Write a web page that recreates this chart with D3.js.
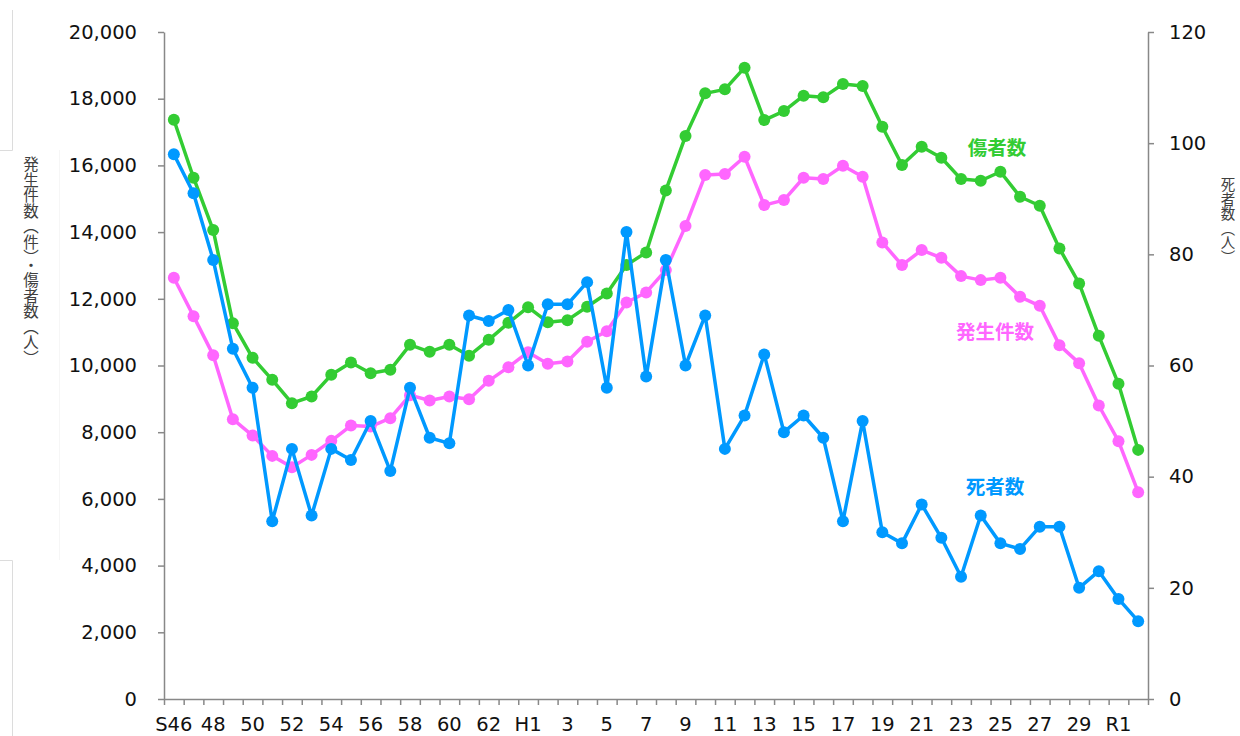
<!DOCTYPE html>
<html lang="ja">
<head>
<meta charset="utf-8">
<script src="https://cdn.jsdelivr.net/npm/d3@7"></script>
<style>
  body { margin: 0; background: #fff; }
  svg { display: block; }
</style>
</head>
<body>
<svg id="chart"></svg>
<script>
// Categories: fiscal years S46 (1971) .. R2 (2020)
const categories = [
  "S46","S47","S48","S49","S50","S51","S52","S53","S54","S55","S56","S57","S58","S59","S60","S61","S62","S63",
  "H1","H2","H3","H4","H5","H6","H7","H8","H9","H10","H11","H12","H13","H14","H15","H16","H17","H18","H19","H20",
  "H21","H22","H23","H24","H25","H26","H27","H28","H29","H30","R1","R2"
];
// labels shown under every other category
const tickLabels = ["S46","48","50","52","54","56","58","60","62","H1","3","5","7","9","11","13","15","17","19","21","23","25","27","29","R1"];

// 傷者数 (left axis)
const injured = [
  17370,15630,14060,11270,10230,9570,8870,9070,9720,10090,9770,9870,10620,10410,10620,10290,10770,11280,
  11750,11300,11360,11760,12160,13010,13390,15250,16880,18160,18280,18930,17360,17630,18090,18040,18440,18380,
  17160,16010,16560,16230,15590,15540,15810,15060,14790,13510,12460,10890,9450,7470
];
// 発生件数 (left axis)
const accidents = [
  12630,11480,10310,8390,7900,7290,6950,7320,7740,8200,8170,8420,9110,8950,9070,8990,9540,9950,
  10400,10050,10120,10710,11030,11890,12190,12860,14180,15710,15740,16260,14810,14960,15630,15590,15990,15660,
  13690,13010,13460,13230,12680,12560,12630,12060,11790,10610,10070,8800,7730,6200
];
// 死者数 (right axis)
const deaths = [
  98,91,79,63,56,32,45,33,45,43,50,41,56,47,46,69,68,70,
  60,71,71,75,56,84,58,79,60,69,45,51,62,48,51,47,32,50,
  30,28,35,29,22,33,28,27,31,31,20,23,18,14
];

const leftTicks = [0,2000,4000,6000,8000,10000,12000,14000,16000,18000,20000];
const rightTicks = [0,20,40,60,80,100,120];

const width = 1240, height = 736;
const margin = {top: 32, right: 92, bottom: 37, left: 164};
const plotW = width - margin.left - margin.right;
const plotH = height - margin.top - margin.bottom;

const colors = {injured: "#33cc33", accidents: "#ff66ff", deaths: "#0099ff"};
const font = "'DejaVu Sans', Verdana, sans-serif";
const jpFont = "'Noto Sans CJK JP', sans-serif";

const svg = d3.select("#chart").attr("width", width).attr("height", height);

// faint frame remnants at the left edge of the original image
const frame = svg.append("g").attr("stroke", "#dcdcdc").attr("stroke-width", 1).attr("fill", "none");
frame.append("path").attr("d", "M12.5,10V150.5H0");
frame.append("path").attr("d", "M0,560.5H12.5V736");
frame.append("path").attr("d", "M59.5,150V560").attr("stroke", "#f6f6f6");

const chart = svg.append("g").attr("transform", `translate(${margin.left},${margin.top})`);

const x = d3.scaleBand().domain(d3.range(categories.length)).range([0, plotW]);
const xEdge = d3.scaleLinear().domain([0, categories.length]).range([0, plotW]);
const yLeft = d3.scaleLinear().domain([0, 20000]).range([plotH, 0]);
const yRight = d3.scaleLinear().domain([0, 120]).range([plotH, 0]);
const cx = i => x(i) + x.bandwidth() / 2;

function styleAxis(g) {
  g.select(".domain").attr("stroke", "#888").attr("stroke-width", 1.5);
  g.selectAll(".tick line").attr("stroke", "#888").attr("stroke-width", 1.5);
  g.selectAll("text").attr("font-family", font).attr("font-size", "19.5px").attr("fill", "#111");
}

// left axis
chart.append("g")
    .call(d3.axisLeft(yLeft).tickValues(leftTicks).tickFormat(d3.format(",")).tickSize(6).tickPadding(21).tickSizeOuter(0))
    .call(styleAxis);

// right axis
chart.append("g")
    .attr("transform", `translate(${plotW},0)`)
    .call(d3.axisRight(yRight).tickValues(rightTicks).tickSize(6).tickPadding(15).tickSizeOuter(0))
    .call(styleAxis);

// x axis: ticks on category boundaries
chart.append("g")
    .attr("transform", `translate(0,${plotH})`)
    .call(d3.axisBottom(xEdge).tickValues(d3.range(categories.length + 1)).tickFormat("").tickSize(6).tickSizeOuter(0))
    .call(styleAxis);

// x labels at every other category centre
chart.append("g")
    .attr("transform", `translate(0,${plotH})`)
    .call(d3.axisBottom(x)
        .tickValues(d3.range(0, categories.length, 2))
        .tickFormat((d, i) => tickLabels[i])
        .tickSize(0).tickPadding(18))
    .call(styleAxis)
    .call(g => g.select(".domain").remove());

// series
const series = [
  {key: "injured", values: injured, y: yLeft},
  {key: "accidents", values: accidents, y: yLeft},
  {key: "deaths", values: deaths, y: yRight}
];

series.forEach(s => {
  const line = d3.line().x((d, i) => cx(i)).y(d => s.y(d));
  const g = chart.append("g");
  g.append("path")
      .datum(s.values)
      .attr("fill", "none")
      .attr("stroke", colors[s.key])
      .attr("stroke-width", 3.5)
      .attr("stroke-linejoin", "round")
      .attr("d", line);
  g.selectAll("circle")
      .data(s.values)
    .join("circle")
      .attr("cx", (d, i) => cx(i))
      .attr("cy", d => s.y(d))
      .attr("r", 6)
      .attr("fill", colors[s.key]);
});

// series labels
const labels = [
  {text: "傷者数", key: "injured", x: 997, y: 146},
  {text: "発生件数", key: "accidents", x: 995, y: 330},
  {text: "死者数", key: "deaths", x: 995, y: 485}
];
svg.selectAll(".series-label")
    .data(labels)
  .join("text")
    .attr("class", "series-label")
    .attr("x", d => d.x)
    .attr("y", d => d.y)
    .attr("text-anchor", "middle")
    .attr("dominant-baseline", "central")
    .attr("font-family", jpFont)
    .attr("font-weight", "bold")
    .attr("font-size", "19.5px")
    .attr("fill", d => colors[d.key])
    .text(d => d.text);

// axis titles (vertical writing)
svg.append("text")
    .attr("x", 31)
    .attr("y", 261)
    .attr("text-anchor", "middle")
    .style("writing-mode", "vertical-rl")
    .attr("font-family", jpFont)
    .attr("font-size", "15.5px")
    .attr("fill", "#404040")
    .text("発生件数（件）・傷者数（人）");

svg.append("text")
    .attr("x", 1228)
    .attr("y", 221)
    .attr("text-anchor", "middle")
    .style("writing-mode", "vertical-rl")
    .attr("font-family", jpFont)
    .attr("font-size", "14.5px")
    .attr("fill", "#404040")
    .text("死者数（人）");
</script>
</body>
</html>
